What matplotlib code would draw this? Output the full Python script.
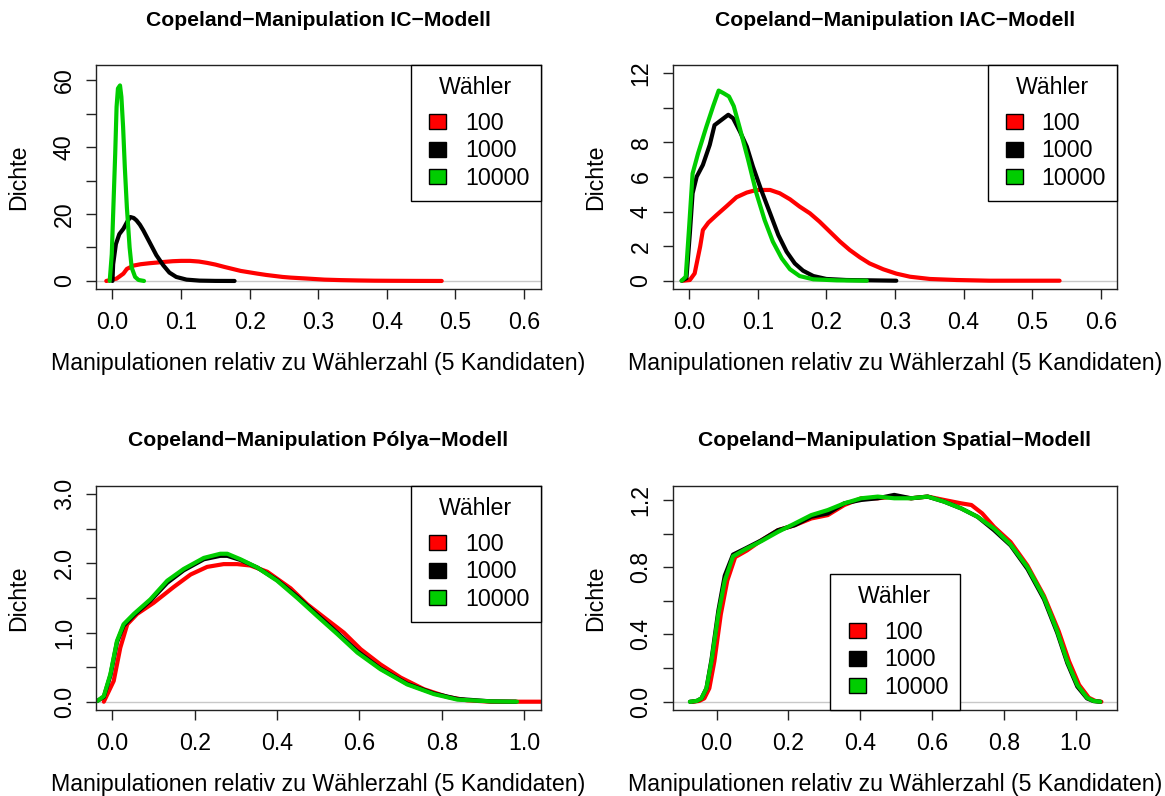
"""
Copeland manipulation densities for four voter models (2x2 panel figure).
"""

import matplotlib
matplotlib.use("Agg")
import matplotlib.pyplot as plt
import matplotlib.patches as mpatches
from matplotlib.legend_handler import HandlerPatch

plt.rcParams['font.family'] = ['Liberation Sans', 'DejaVu Sans']

# ---- legend / series ----
voters = ['100', '1000', '10000']
series_colors = ['#FF0000', '#000000', '#00CD00']

# ---- IC model ----
ic_x_100 = [-0.009, 0.006, 0.016, 0.021, 0.031, 0.041, 0.054, 0.065, 0.076, 0.088, 0.100, 0.113,
            0.126, 0.138, 0.150, 0.163, 0.175, 0.187, 0.199, 0.211, 0.224, 0.236, 0.248, 0.260,
            0.285, 0.309, 0.333, 0.358, 0.382, 0.406, 0.440, 0.480]
ic_y_100 = [0.0, 0.7, 2.2, 3.6, 4.6, 5.0, 5.3, 5.5, 5.7, 5.9, 6.0, 6.0,
            5.8, 5.4, 4.9, 4.2, 3.6, 3.0, 2.6, 2.2, 1.8, 1.5, 1.2, 1.0,
            0.7, 0.4, 0.25, 0.15, 0.08, 0.05, 0.02, 0.0]
ic_x_1000 = [0.0, 0.001, 0.005, 0.010, 0.016, 0.021, 0.026, 0.031, 0.035, 0.040, 0.045, 0.054,
             0.064, 0.074, 0.083, 0.093, 0.108, 0.127, 0.150, 0.178]
ic_y_1000 = [0.0, 5.0, 11.0, 14.0, 15.6, 17.5, 19.1, 18.8, 18.1, 16.8, 15.1, 11.6,
             7.7, 4.7, 2.5, 1.2, 0.4, 0.1, 0.02, 0.0]
ic_x_10000 = [-0.004, -0.001, 0.001, 0.004, 0.006, 0.008, 0.011, 0.013, 0.0155, 0.018, 0.021,
              0.025, 0.028, 0.033, 0.038, 0.046]
ic_y_10000 = [0.0, 8.0, 20.0, 38.0, 52.0, 57.5, 58.4, 55.0, 46.0, 34.0, 22.0,
              10.0, 4.0, 1.2, 0.3, 0.0]

# ---- IAC model ----
iac_x_100 = [-0.009, 0.001, 0.008, 0.016, 0.020, 0.028, 0.040, 0.054, 0.069, 0.084, 0.098, 0.118,
             0.132, 0.147, 0.161, 0.176, 0.190, 0.205, 0.220, 0.234, 0.249, 0.263, 0.283, 0.302,
             0.322, 0.351, 0.390, 0.438, 0.540]
iac_y_100 = [0.0, 0.04, 0.42, 1.97, 2.93, 3.36, 3.8, 4.29, 4.83, 5.1, 5.25, 5.25,
             5.06, 4.71, 4.29, 3.9, 3.42, 2.84, 2.26, 1.78, 1.35, 1.0, 0.66, 0.41,
             0.23, 0.1, 0.04, 0.0, 0.0]
iac_x_1000 = [-0.011, -0.004, 0.001, 0.005, 0.011, 0.020, 0.030, 0.037, 0.047, 0.057, 0.064, 0.074,
              0.084, 0.093, 0.105, 0.118, 0.130, 0.142, 0.154, 0.166, 0.181, 0.200, 0.229, 0.302]
iac_y_1000 = [0.0, 0.14, 2.74, 5.06, 6.02, 6.7, 7.86, 9.0, 9.3, 9.6, 9.4, 8.63,
              7.76, 6.6, 5.25, 3.9, 2.64, 1.68, 1.0, 0.58, 0.27, 0.1, 0.04, 0.0]
iac_x_10000 = [-0.011, -0.005, 0.0, 0.005, 0.013, 0.025, 0.035, 0.043, 0.050, 0.058, 0.065, 0.074,
               0.086, 0.098, 0.110, 0.122, 0.135, 0.147, 0.161, 0.181, 0.215, 0.259]
iac_y_10000 = [0.0, 0.23, 3.13, 6.2, 7.37, 8.9, 10.1, 11.0, 10.85, 10.66, 10.1, 8.8,
               6.99, 5.06, 3.51, 2.26, 1.29, 0.66, 0.27, 0.08, 0.02, 0.0]

# ---- Polya model ----
polya_x_100 = [-0.021, 0.003, 0.019, 0.036, 0.060, 0.100, 0.149, 0.190, 0.230, 0.270, 0.303, 0.335,
               0.376, 0.433, 0.473, 0.514, 0.562, 0.603, 0.651, 0.700, 0.757, 0.813, 0.862, 0.919,
               1.040]
polya_y_100 = [0.0, 0.30, 0.78, 1.12, 1.27, 1.43, 1.66, 1.84, 1.95, 1.99, 1.99, 1.97,
               1.88, 1.64, 1.41, 1.22, 1.0, 0.76, 0.54, 0.35, 0.18, 0.07, 0.02, 0.0,
               0.0]
polya_x_1000 = [-0.037, -0.021, -0.005, 0.011, 0.027, 0.052, 0.092, 0.133, 0.173, 0.222, 0.262, 0.279,
                0.311, 0.352, 0.400, 0.449, 0.497, 0.546, 0.595, 0.651, 0.716, 0.781, 0.838, 0.919,
                0.980]
polya_y_1000 = [0.01, 0.07, 0.38, 0.86, 1.10, 1.25, 1.46, 1.72, 1.90, 2.06, 2.11, 2.11,
                2.05, 1.94, 1.76, 1.52, 1.26, 1.0, 0.73, 0.48, 0.26, 0.12, 0.04, 0.005,
                0.0]
polya_x_10000 = [-0.037, -0.021, -0.005, 0.011, 0.027, 0.052, 0.092, 0.133, 0.173, 0.222, 0.262, 0.279,
                 0.311, 0.352, 0.400, 0.449, 0.497, 0.546, 0.595, 0.651, 0.716, 0.781, 0.838, 0.919,
                 0.983]
polya_y_10000 = [0.01, 0.08, 0.40, 0.88, 1.12, 1.27, 1.48, 1.75, 1.92, 2.08, 2.14, 2.14,
                 2.06, 1.94, 1.75, 1.50, 1.24, 0.98, 0.71, 0.47, 0.25, 0.11, 0.03, 0.005,
                 0.0]

# ---- Spatial model ----
spatial_x_100 = [-0.066, -0.048, -0.034, -0.020, -0.006, 0.012, 0.030, 0.052, 0.085, 0.125, 0.171, 0.218,
                 0.264, 0.310, 0.356, 0.403, 0.449, 0.495, 0.542, 0.588, 0.634, 0.681, 0.710, 0.740,
                 0.773, 0.819, 0.866, 0.912, 0.953, 0.982, 1.010, 1.037, 1.055, 1.072]
spatial_y_100 = [0.0, 0.005, 0.02, 0.08, 0.24, 0.52, 0.72, 0.86, 0.90, 0.96, 1.02, 1.05,
                 1.09, 1.11, 1.17, 1.21, 1.21, 1.22, 1.21, 1.22, 1.20, 1.18, 1.17, 1.12,
                 1.04, 0.95, 0.81, 0.63, 0.42, 0.24, 0.10, 0.024, 0.005, 0.0]
spatial_x_1000 = [-0.074, -0.055, -0.042, -0.028, -0.014, 0.005, 0.023, 0.046, 0.079, 0.125, 0.171, 0.218,
                  0.264, 0.310, 0.356, 0.403, 0.449, 0.495, 0.542, 0.588, 0.634, 0.681, 0.727, 0.773,
                  0.819, 0.866, 0.912, 0.949, 0.977, 1.005, 1.032, 1.050, 1.069]
spatial_y_1000 = [0.0, 0.005, 0.02, 0.08, 0.25, 0.54, 0.75, 0.875, 0.91, 0.96, 1.02, 1.05,
                  1.10, 1.12, 1.18, 1.20, 1.21, 1.23, 1.21, 1.22, 1.19, 1.15, 1.10, 1.02,
                  0.93, 0.79, 0.61, 0.41, 0.23, 0.09, 0.02, 0.004, 0.0]
spatial_x_10000 = [-0.074, -0.055, -0.042, -0.028, -0.014, 0.005, 0.023, 0.046, 0.079, 0.125, 0.171, 0.218,
                   0.264, 0.310, 0.356, 0.403, 0.449, 0.495, 0.542, 0.588, 0.634, 0.681, 0.727, 0.773,
                   0.819, 0.866, 0.912, 0.949, 0.977, 1.005, 1.032, 1.050, 1.069]
spatial_y_10000 = [0.0, 0.005, 0.02, 0.08, 0.24, 0.52, 0.72, 0.865, 0.905, 0.955, 1.01, 1.06,
                   1.11, 1.14, 1.18, 1.21, 1.22, 1.21, 1.21, 1.22, 1.19, 1.15, 1.10, 1.03,
                   0.935, 0.80, 0.62, 0.42, 0.24, 0.10, 0.024, 0.005, 0.0]

# ---- axis ticks and labels ----
ic_xticks = [0.0, 0.1, 0.2, 0.3, 0.4, 0.5, 0.6]
ic_yticks = [0, 10, 20, 30, 40, 50, 60]
ic_ylabels = ['0', '', '20', '', '40', '', '60']
iac_yticks = [0, 2, 4, 6, 8, 10, 12]
iac_ylabels = ['0', '2', '4', '6', '8', '', '12']
unit_xticks = [0.0, 0.2, 0.4, 0.6, 0.8, 1.0]
polya_yticks = [0.0, 0.5, 1.0, 1.5, 2.0, 2.5, 3.0]
polya_ylabels = ['0.0', '', '1.0', '', '2.0', '', '3.0']
spatial_yticks = [0.0, 0.2, 0.4, 0.6, 0.8, 1.0, 1.2]
spatial_ylabels = ['0.0', '', '0.4', '', '0.8', '', '1.2']

titles = ['Copeland\u2212Manipulation IC\u2212Modell',
          'Copeland\u2212Manipulation IAC\u2212Modell',
          'Copeland\u2212Manipulation P\u00f3lya\u2212Modell',
          'Copeland\u2212Manipulation Spatial\u2212Modell']
x_label = 'Manipulationen relativ zu W\u00e4hlerzahl (5 Kandidaten)'
y_label = 'Dichte'
legend_title = 'W\u00e4hler'

FS_TITLE = 15.2
FS = 16.7
W, H = 1165, 796


def box_patch(legend, orig_handle, xdescent, ydescent, width, height, fontsize):
    """Small filled square sitting at the right end of the handle area (R style)."""
    w, h = 12.2, 10.8
    return mpatches.Rectangle((-xdescent + width - w, -ydescent + (height - h) / 2), w, h)


def r_style_panel(ax, title, curves, xlim, ylim, xticks, yticks, ylabels, legend_loc):
    """Draw one density panel mimicking R base graphics."""
    ax.axhline(0, color='#c8c8c8', lw=1.0, zorder=1)
    for (x, y), col in zip(curves, series_colors):
        ax.plot(x, y, color=col, lw=3.0, solid_capstyle='round', solid_joinstyle='round', zorder=2)

    ax.set_xlim(*xlim)
    ax.set_ylim(*ylim)
    ax.set_xticks(xticks)
    ax.set_xticklabels(['%.1f' % t for t in xticks])
    ax.set_yticks(yticks)
    ax.set_yticklabels(ylabels, rotation=90, va='center')
    ax.tick_params(direction='out', length=7.5, width=1.0, labelsize=FS, color='#222222')
    ax.tick_params(axis='x', pad=8)
    ax.tick_params(axis='y', pad=7)
    for sp in ax.spines.values():
        sp.set_linewidth(1.0)
        sp.set_color('#222222')

    ax.annotate(title, xy=(0.5, 1), xycoords='axes fraction', xytext=(0, 45),
                textcoords='offset pixels', ha='center', va='center',
                fontsize=FS_TITLE, fontweight='bold')
    ax.set_xlabel(x_label, fontsize=FS)
    ax.set_ylabel(y_label, fontsize=FS)
    ax.xaxis.set_label_coords(0.5, -0.28)
    ax.yaxis.set_label_coords(-0.148, 0.5)

    handles = [mpatches.Patch(facecolor=c, edgecolor='black', lw=1.0) for c in series_colors]
    leg = ax.legend(handles, voters, title=legend_title, loc=legend_loc, borderaxespad=0,
                    fancybox=False, framealpha=1, edgecolor='black', fontsize=FS,
                    title_fontsize=FS, handlelength=1.05, handleheight=0.7,
                    handletextpad=0.8, labelspacing=0.2, borderpad=0.48,
                    handler_map={mpatches.Patch: HandlerPatch(patch_func=box_patch)})
    leg.get_frame().set_linewidth(1.0)
    # extra room between the legend title and the entries, as in R
    leg._legend_box.sep = 9.0
    leg.set_zorder(5)


def main():
    fig = plt.figure(figsize=(W / 100, H / 100), dpi=100)
    lefts = [96 / W, 672.7 / W]
    width = 444.5 / W
    bottoms = [1 - 289 / H, 1 - 710 / H]
    height = 224 / H

    ax1 = fig.add_axes([lefts[0], bottoms[0], width, height])
    ax2 = fig.add_axes([lefts[1], bottoms[0], width, height])
    ax3 = fig.add_axes([lefts[0], bottoms[1], width, height])
    ax4 = fig.add_axes([lefts[1], bottoms[1], width, height])

    r_style_panel(ax1, titles[0],
                  [(ic_x_100, ic_y_100), (ic_x_1000, ic_y_1000), (ic_x_10000, ic_y_10000)],
                  (-0.024, 0.624), (-2.4, 64.5), ic_xticks, ic_yticks, ic_ylabels, 'upper right')
    r_style_panel(ax2, titles[1],
                  [(iac_x_100, iac_y_100), (iac_x_1000, iac_y_1000), (iac_x_10000, iac_y_10000)],
                  (-0.024, 0.624), (-0.48, 12.48), ic_xticks, iac_yticks, iac_ylabels, 'upper right')
    r_style_panel(ax3, titles[2],
                  [(polya_x_100, polya_y_100), (polya_x_1000, polya_y_1000),
                   (polya_x_10000, polya_y_10000)],
                  (-0.04, 1.04), (-0.12, 3.12), unit_xticks, polya_yticks, polya_ylabels, 'upper right')
    r_style_panel(ax4, titles[3],
                  [(spatial_x_100, spatial_y_100), (spatial_x_1000, spatial_y_1000),
                   (spatial_x_10000, spatial_y_10000)],
                  (-0.122, 1.116), (-0.049, 1.283), unit_xticks, spatial_yticks, spatial_ylabels,
                  'lower center')

    fig.savefig('out.png', dpi=100)


if __name__ == '__main__':
    main()
